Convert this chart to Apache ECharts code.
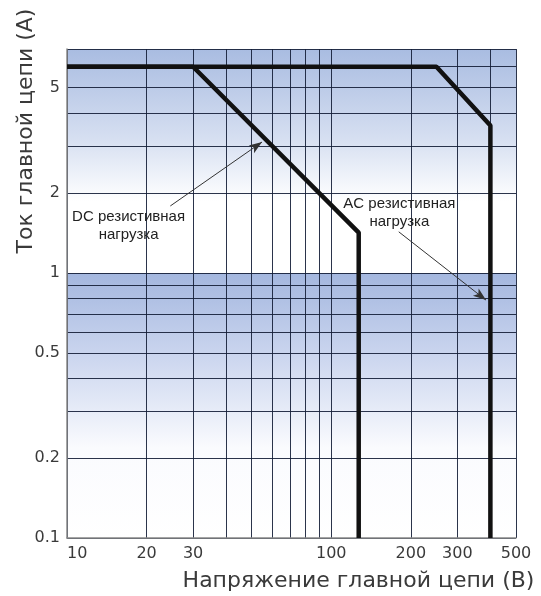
<!DOCTYPE html>
<html><head><meta charset="utf-8">
<script src="https://cdn.jsdelivr.net/npm/echarts@6/dist/echarts.min.js"></script>
<style>html,body{margin:0;padding:0;background:#fff}#c{width:541px;height:596px}</style>
</head><body><div id="c"></div>
<script>
// ---- data ----
const xTickValues = [10, 20, 30, 40, 50, 60, 70, 80, 90, 100, 200, 300, 400, 500];
const xLabelValues = [10, 20, 30, 100, 200, 300, 500];
const yTickValues = [0.1, 0.2, 0.3, 0.4, 0.5, 0.6, 0.7, 0.8, 0.9, 1, 2, 3, 4, 5, 6, 7];
const yLabelValues = [0.1, 0.2, 0.5, 1, 2, 5];
const dcLimit = [[10, 6], [30, 6], [127, 1.42], [127, 0.1]];
const acLimit = [[10, 6], [250, 6], [400, 3.6], [400, 0.1]];
const upperBand = [1, 7];
const lowerBand = [0.1, 1];
const dcArrow = [[24.6, 1.79], [54.7, 3.12]];
const acArrow = [[180, 1.43], [385, 0.79]];
const noteNames = ['DC резистивная\nнагрузка', 'AC резистивная\nнагрузка'];
const noteCoords = [[17.1, 1.51], [181, 1.69]];
const xName = 'Напряжение главной цепи (В)';
const yName = 'Ток главной цепи (А)';

// ---- chart ----
const chart = echarts.init(document.getElementById('c'), null, {renderer: 'canvas'});
const grad = (stops) => new echarts.graphic.LinearGradient(0, 0, 0, 1,
  stops.map(s => ({offset: s[0], color: s[1]})));
const gridLineStyle = {color: 'rgba(20,30,55,0.9)', width: 1};
const tickFont = {fontFamily: 'DejaVu Sans', fontSize: 16, color: '#3a3a3a'};
const nameFont = {fontFamily: 'DejaVu Sans', fontSize: 22, color: '#3a3a3a'};

const option = {
  animation: false,
  backgroundColor: '#fff',
  grid: {left: 67, right: 25, top: 49, bottom: 58, containLabel: false, outerBoundsMode: 'none'},
  xAxis: {
    type: 'log', logBase: 10, min: 10, max: 500, z: 1.5,
    name: xName, nameLocation: 'middle', nameGap: 32, nameMoveOverlap: false,
    nameTextStyle: Object.assign({padding: [0, 0, 0, 134]}, nameFont),
    axisLine: {show: true, lineStyle: {color: '#888', width: 1.5}},
    axisTick: {show: false, customValues: xTickValues},
    axisLabel: Object.assign({customValues: xLabelValues, margin: 8, alignMinLabel: 'left'}, tickFont),
    splitLine: {show: true, lineStyle: gridLineStyle},
    minorSplitLine: {show: false}
  },
  yAxis: {
    type: 'log', logBase: 10, min: 0.1, max: 7, z: 1.5,
    name: yName, nameLocation: 'middle', nameGap: 30, nameMoveOverlap: false,
    nameTextStyle: Object.assign({padding: [0, 0, 0, 325]}, nameFont),
    axisLine: {show: true, lineStyle: {color: '#888', width: 1.5}},
    axisTick: {show: false, customValues: yTickValues},
    axisLabel: Object.assign({customValues: yLabelValues, margin: 7}, tickFont),
    splitLine: {show: true, lineStyle: gridLineStyle}
  },
  series: [
    {
      name: 'DC', type: 'line', data: dcLimit, symbol: 'none', z: 3,
      lineStyle: {color: '#111', width: 4.5}, silent: true,
      markArea: {
        z: 1, silent: true,
        data: [
          [{yAxis: upperBand[0], itemStyle: {color: grad([[0, '#a9bce1'], [0.4, '#d6dff1'], [0.68, '#ffffff'], [1, '#ffffff']])}}, {yAxis: upperBand[1]}],
          [{yAxis: lowerBand[0], itemStyle: {color: grad([[0, '#a4b7df'], [0.3, '#c9d4ee'], [0.66, '#fafbfe'], [1, '#ffffff']])}}, {yAxis: lowerBand[1]}]
        ]
      }
    },
    {
      name: 'AC', type: 'line', data: acLimit, symbol: 'none', z: 3,
      lineStyle: {color: '#111', width: 4.5}, silent: true,
      markLine: {
        silent: true, symbol: ['none', 'arrow'], symbolSize: [7, 13],
        label: {show: false},
        lineStyle: {color: '#333', width: 1, type: 'solid'},
        data: [
          [{coord: dcArrow[0]}, {coord: dcArrow[1]}],
          [{coord: acArrow[0]}, {coord: acArrow[1]}]
        ]
      },
      markPoint: {
        silent: true, symbol: 'rect', symbolSize: 1,
        itemStyle: {color: 'rgba(0,0,0,0)'},
        label: {show: true, position: 'inside', formatter: '{b}', fontFamily: 'Liberation Sans', fontSize: 15, lineHeight: 18, color: '#222'},
        data: noteNames.map((n, i) => ({name: n, coord: noteCoords[i]}))
      }
    }
  ]
};
chart.setOption(option);
</script>
</body></html>
